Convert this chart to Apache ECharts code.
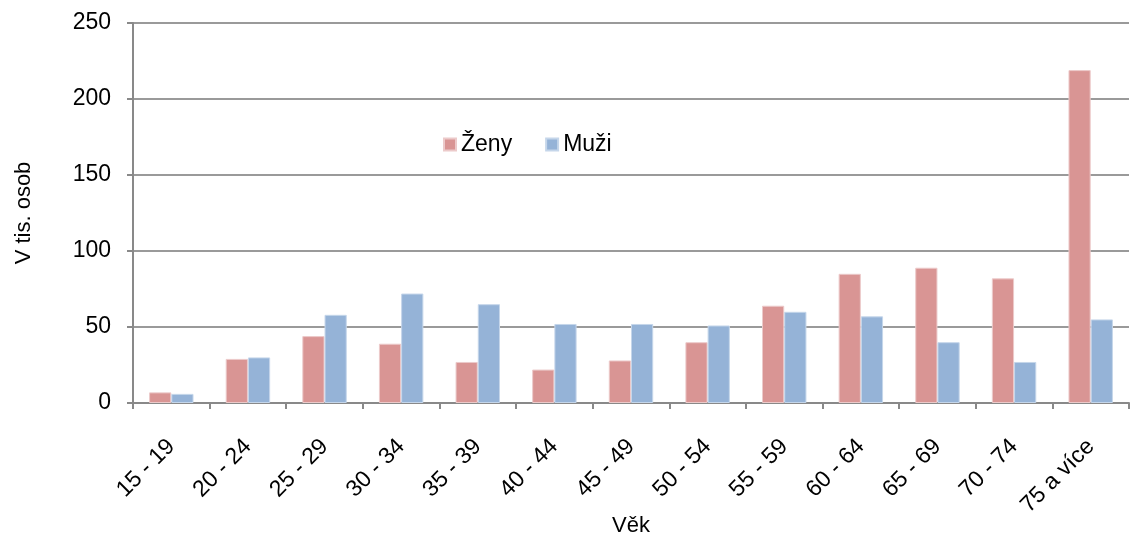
<!DOCTYPE html>
<html>
<head>
<meta charset="utf-8">
<script src="https://cdn.jsdelivr.net/npm/echarts@6/dist/echarts.min.js"></script>
<style>
    html, body { margin: 0; padding: 0; background: #fff; }
    #chart { width: 1130px; height: 536px; }
</style>
</head>
<body>
<div id="chart"></div>
<script>
var categories = ['15 - 19', '20 - 24', '25 - 29', '30 - 34', '35 - 39', '40 - 44', '45 - 49',
    '50 - 54', '55 - 59', '60 - 64', '65 - 69', '70 - 74', '75 a více'];
var zeny = [7, 29, 44, 39, 27, 22, 28, 40, 64, 85, 89, 82, 219];
var muzi = [6, 30, 58, 72, 65, 52, 52, 51, 60, 57, 40, 27, 55];
var yTicks = [0, 50, 100, 150, 200, 250];

function getChart() {
    var myChart = echarts.init(document.getElementById('chart'));
    var font = 'Liberation Sans, Arial, sans-serif';
    var option = {
        backgroundColor: '#fff',
        animation: false,
        textStyle: { fontFamily: font },
        legend: {
            left: 438,
            top: 128,
            itemWidth: 12,
            itemHeight: 12,
            itemGap: 33,
            itemTextGap: 6,
            icon: 'rect',
            textStyle: { fontSize: 23, color: '#000', fontFamily: font },
            data: ['Ženy', 'Muži']
        },
        grid: {
            left: 133,
            right: 1,
            top: 23,
            bottom: 133,
            outerBoundsMode: 'none',
            containLabel: false
        },
        xAxis: {
            type: 'category',
            data: categories,
            name: 'Věk',
            nameLocation: 'middle',
            nameGap: 112,
            nameMoveOverlap: false,
            nameTextStyle: { fontSize: 22, color: '#000', fontFamily: font },
            axisLine: { lineStyle: { color: '#898989', width: 2 } },
            axisTick: { show: true, length: 6, lineStyle: { color: '#898989', width: 2 } },
            axisLabel: { rotate: 45, fontSize: 23, color: '#000', margin: 40, fontFamily: font }
        },
        yAxis: {
            type: 'value',
            min: yTicks[0],
            max: yTicks[yTicks.length - 1],
            interval: 50,
            name: 'V tis. osob',
            nameLocation: 'middle',
            nameGap: 98,
            nameMoveOverlap: false,
            nameTextStyle: { fontSize: 22, color: '#000', fontFamily: font },
            axisLine: { show: true, lineStyle: { color: '#898989', width: 2 } },
            axisTick: { show: true, length: 6, lineStyle: { color: '#898989', width: 2 } },
            axisLabel: { fontSize: 23, color: '#000', margin: 22, fontFamily: font },
            splitLine: { lineStyle: { color: '#9a9a9a', width: 2 } }
        },
        series: [
            {
                name: 'Ženy',
                type: 'bar',
                data: zeny,
                barGap: '0%',
                barCategoryGap: '42%',
                itemStyle: { color: '#d99594', borderColor: '#eccaca', borderWidth: 1 }
            },
            {
                name: 'Muži',
                type: 'bar',
                data: muzi,
                itemStyle: { color: '#95b3d7', borderColor: '#c5d6ea', borderWidth: 1 }
            }
        ]
    };
    myChart.setOption(option);
}
getChart();
</script>
</body>
</html>
